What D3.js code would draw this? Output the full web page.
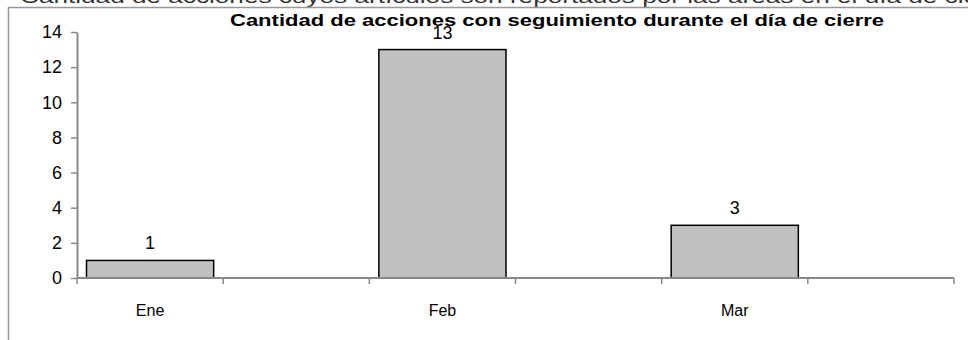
<!DOCTYPE html>
<html>
<head>
<meta charset="utf-8">
<script src="https://cdn.jsdelivr.net/npm/d3@7"></script>
<style>
	body { margin: 0; background: #fff; }
	svg { display: block; font-family: "Liberation Sans", Arial, sans-serif; }
</style>
</head>
<body>
<svg id="chart" width="968" height="340"></svg>
<script>
// chart data
const categories = ["Ene", "", "Feb", "", "Mar", ""];
const values = [1, null, 13, null, 3, null];
const yTicks = [0, 2, 4, 6, 8, 10, 12, 14];
const title = "Cantidad de acciones con seguimiento durante el día de cierre";
const headerText = "Cantidad de acciones cuyos artículos son reportados por las áreas en el día de cierre";

const svg = d3.select("#chart");
const margin = {top: 32, right: 14, bottom: 62, left: 77};
const width = 968;
const height = 340;

const data = categories.map((label, i) => ({label, value: values[i], key: i}));

const x = d3.scaleBand()
.domain(data.map((d) => d.key))
.range([margin.left, width - margin.right])
.paddingInner(0.13)
.paddingOuter(0.065);

const y = d3.scaleLinear()
.domain([0, 14])
.range([height - margin.bottom, margin.top]);

// cut-off header line and outer frame
svg.append("text")
.attr("x", 20)
.attr("y", 3)
.attr("font-size", 18)
.attr("fill", "#333")
.attr("textLength", 990)
.attr("lengthAdjust", "spacingAndGlyphs")
.text(headerText);

svg.append("path")
.attr("d", `M8.5,${height}V7.5H${width}`)
.attr("fill", "none")
.attr("stroke", "#999")
.attr("stroke-width", 1.5);

// bars
const bars = data.filter((d) => d.value !== null);

svg.append("g")
.selectAll("rect")
.data(bars)
.enter()
.append("rect")
.attr("x", (d) => x(d.key))
.attr("y", (d) => y(d.value))
.attr("width", x.bandwidth())
.attr("height", (d) => y(0) - y(d.value))
.attr("fill", "#c0c0c0")
.attr("stroke", "#000")
.attr("stroke-width", 1.5);

// value labels
svg.append("g")
.selectAll("text")
.data(bars)
.enter()
.append("text")
.attr("x", (d) => x(d.key) + x.bandwidth() / 2)
.attr("y", (d) => y(d.value) - 11)
.attr("text-anchor", "middle")
.attr("font-size", 18)
.text((d) => d.value);

// y axis
const yAxis = svg.append("g")
.attr("transform", `translate(${margin.left},0)`)
.call(d3.axisLeft(y).tickValues(yTicks).tickSize(6).tickPadding(9).tickSizeOuter(0));

yAxis.select(".domain").attr("stroke", "#888").attr("stroke-width", 2);
yAxis.selectAll(".tick line").attr("stroke", "#888").attr("stroke-width", 1.5);
yAxis.selectAll(".tick text")
.attr("font-size", 18)
.attr("font-family", "Liberation Sans, Arial, sans-serif")
.attr("fill", "#000");

// x axis: ticks sit on band boundaries
const step = x.step();
const boundaries = d3.range(categories.length + 1).map((i) => margin.left + i * step);

const xAxis = svg.append("g");

xAxis.append("line")
.attr("x1", margin.left)
.attr("x2", width - margin.right)
.attr("y1", y(0))
.attr("y2", y(0))
.attr("stroke", "#888")
.attr("stroke-width", 2);

xAxis.selectAll(".xtick")
.data(boundaries)
.enter()
.append("line")
.attr("class", "xtick")
.attr("x1", (d) => d)
.attr("x2", (d) => d)
.attr("y1", y(0))
.attr("y2", y(0) + 6)
.attr("stroke", "#888")
.attr("stroke-width", 1.5);

xAxis.selectAll(".xlabel")
.data(data.filter((d) => d.label))
.enter()
.append("text")
.attr("class", "xlabel")
.attr("x", (d) => x(d.key) + x.bandwidth() / 2)
.attr("y", y(0) + 38)
.attr("text-anchor", "middle")
.attr("font-size", 16)
.text((d) => d.label);

// title
svg.append("text")
.attr("x", 557)
.attr("y", 26)
.attr("text-anchor", "middle")
.attr("font-size", 16)
.attr("font-weight", "bold")
.attr("textLength", 654)
.attr("lengthAdjust", "spacingAndGlyphs")
.text(title);
</script>
</body>
</html>
